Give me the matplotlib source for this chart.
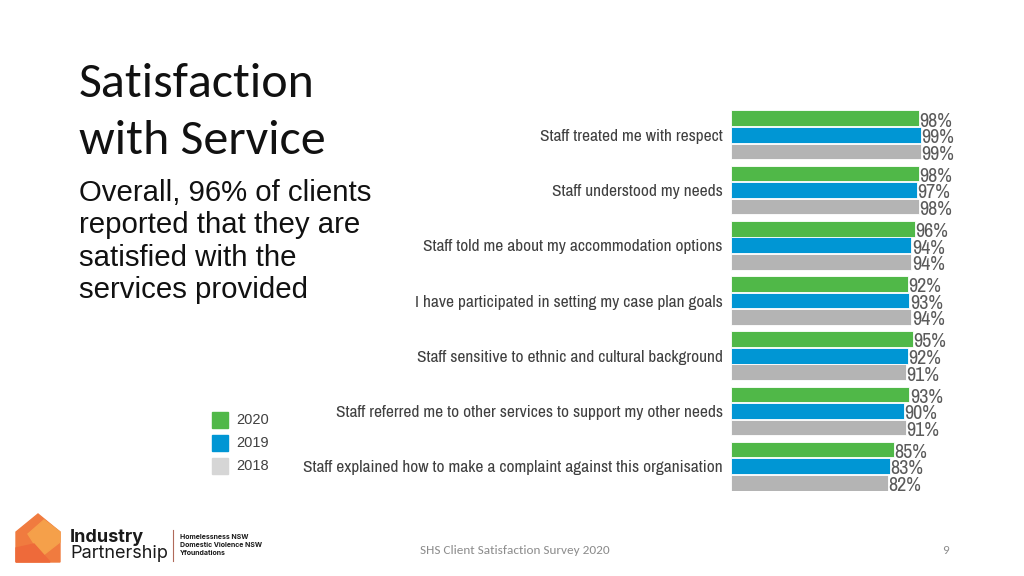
import numpy as np
import matplotlib.pyplot as plt
from matplotlib import font_manager as fm
from matplotlib.patches import Polygon, Rectangle

# data
categories = [
    "Staff treated me with respect",
    "Staff understood my needs",
    "Staff told me about my accommodation options",
    "I have participated in setting my case plan goals",
    "Staff sensitive to ethnic and cultural background",
    "Staff referred me to other services to support my other needs",
    "Staff explained how to make a complaint against this organisation",
]
years = ["2020", "2019", "2018"]
v2020 = [98, 98, 96, 92, 95, 93, 85]
v2019 = [99, 97, 94, 93, 92, 90, 83]
v2018 = [99, 98, 94, 94, 91, 91, 82]

bar_colors = ["#50B848", "#0096D4", "#B4B4B4"]
legend_colors = ["#50B848", "#0096D4", "#D6D6D6"]

installed = {f.name for f in fm.fontManager.ttflist}


def pick(*names):
    for n in names:
        if n in installed:
            return n
    return "DejaVu Sans"


narrow = pick("Archivo Narrow", "Liberation Sans Narrow")
narrow_stretch = "normal" if narrow != "DejaVu Sans" else "condensed"
title_font = pick("Carlito", "Open Sans", "Lato")
arial = pick("Liberation Sans", "Arimo")
calibri = title_font == "Carlito"

W, H = 1024, 576
fig = plt.figure(figsize=(W / 100, H / 100), dpi=100)


def px(x0, y0, x1, y1):
    """figure rect from pixel box (top-left origin)"""
    return [x0 / W, 1 - y1 / H, (x1 - x0) / W, (y1 - y0) / H]


def fy(y):
    return 1 - y / H


# bar chart: x=0 at pixel 731, ~1.919 px per %
ax = fig.add_axes(px(731, 110, 1000, 491))
ax.set_xlim(0, (1000 - 731) / 1.919)
ax.set_ylim(6.45, -0.45)
pitch, h = 0.30, 0.285
y = np.arange(len(categories))
for k, vals in enumerate([v2020, v2019, v2018]):
    yy = y + (k - 1) * pitch
    ax.barh(yy, vals, height=h, color=bar_colors[k], edgecolor="white", linewidth=0.6)
    for yi, v in zip(yy, vals):
        ax.text(v + 0.2, yi + 0.05, f"{v}%", ha="left", va="center",
                fontsize=14.5, color="#5A5A5A", family=narrow, fontstretch=narrow_stretch)
ax.set_yticks(y)
ax.set_yticklabels(categories, family=narrow, fontstretch=narrow_stretch, fontsize=12.5, color="#404040")
ax.tick_params(axis="y", length=0, pad=6)
ax.set_xticks([])
for s in ax.spines.values():
    s.set_visible(False)

# title, one line at a time on its baseline
tsize = 36 if calibri else 33.5
fig.text(79 / W, fy(97), "Satisfaction", fontsize=tsize, family=title_font,
         color="#111111", va="baseline")
fig.text(79 / W, fy(154), "with Service", fontsize=tsize, family=title_font,
         color="#111111", va="baseline")

sub = ["Overall, 96% of clients", "reported that they are", "satisfied with the", "services provided"]
for i, line in enumerate(sub):
    fig.text(79 / W, fy(201 + i * 32.3), line, fontsize=21.2, family=arial,
             color="#111111", va="baseline")

# legend
for k, yr in enumerate(years):
    top = 412 + k * 23
    fig.add_artist(Rectangle((212 / W, fy(top + 16)), 16 / W, 16 / H,
                             color=legend_colors[k], transform=fig.transFigure))
    fig.text(236 / W, fy(top + 8), yr, fontsize=10.5, va="center",
             family=arial, color="#404040")

# logo
logo = fig.add_axes(px(14, 512, 70, 564))
logo.set_xlim(0, 56)
logo.set_ylim(52, 0)
logo.axis("off")
logo.add_patch(Polygon([(2, 20), (24, 2), (46, 20), (46, 50), (2, 50)], color="#F07B3F"))
logo.add_patch(Polygon([(14, 22), (30, 8), (46, 20), (46, 30), (28, 44)], color="#F5A04A"))
logo.add_patch(Polygon([(2, 36), (20, 32), (36, 50), (2, 50)], color="#EE6A3A"))
fig.text(70 / W, fy(537), "Industry", fontsize=13, fontweight="bold", va="center",
         family=["Inter", "DejaVu Sans"], color="#1A1A1A")
fig.text(70 / W, fy(553), "Partnership", fontsize=13, va="center",
         family=["Inter", "DejaVu Sans"], color="#1A1A1A")
fig.add_artist(plt.Line2D([173 / W, 173 / W], [fy(530), fy(561)], color="#B06A5A", lw=0.8))
fig.text(180 / W, fy(545), "Homelessness NSW\nDomestic Violence NSW\nYfoundations", fontsize=5,
         fontweight="bold", va="center", family=["Inter", "DejaVu Sans"], color="#1A1A1A",
         linespacing=1.4)

# footer
fsize = 9.5 if calibri else 9
fig.text(420 / W, fy(550), "SHS Client Satisfaction Survey 2020", fontsize=fsize, va="center",
         family=[title_font, "DejaVu Sans"], color="#8C8C8C")
fig.text(942 / W, fy(550), "9", fontsize=fsize, va="center",
         family=[title_font, "DejaVu Sans"], color="#8C8C8C")

fig.savefig("out.png", dpi=100, facecolor="white")
